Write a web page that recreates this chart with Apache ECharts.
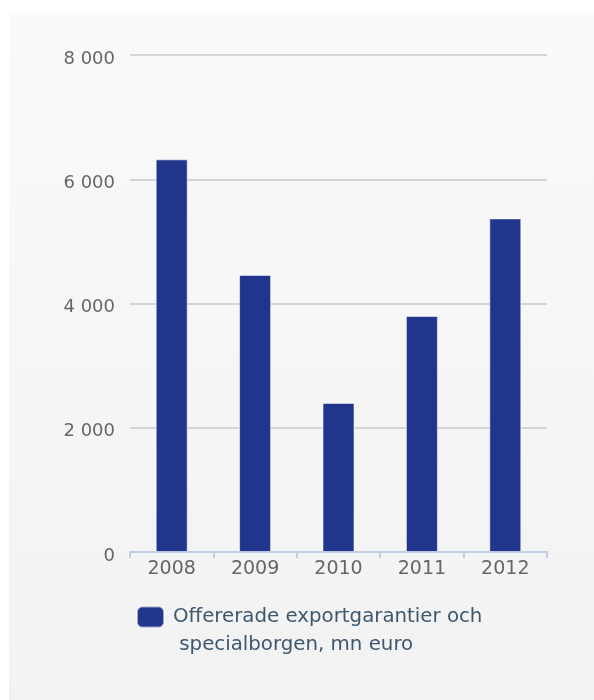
<!DOCTYPE html>
<html>
<head>
<meta charset="utf-8">
<script src="https://cdn.jsdelivr.net/npm/echarts@6/dist/echarts.min.js"></script>
<style>
html,body{margin:0;padding:0;background:#fff;width:594px;height:700px;overflow:hidden;}
#panel{position:absolute;left:9px;top:12px;width:585px;height:688px;background:linear-gradient(#fafafa,#f2f2f2);}
#chart{position:absolute;left:0;top:0;width:594px;height:700px;}
</style>
</head>
<body>
<div id="panel"></div>
<div id="chart"></div>
<script>
const categories = ['2008', '2009', '2010', '2011', '2012'];
const seriesName = 'Offererade exportgarantier och specialborgen, mn euro';
const values = [6320, 4460, 2400, 3800, 5370];
const yTicks = [0, 2000, 4000, 6000, 8000];

const chart = echarts.init(document.getElementById('chart'), null, {renderer: 'canvas'});
const font = '"DejaVu Sans", Verdana, sans-serif';
chart.setOption({
  backgroundColor: 'transparent',
  animation: false,
  grid: {left: 130, right: 47, top: 55, bottom: 148, containLabel: false},
  xAxis: {
    type: 'category',
    data: categories,
    axisLine: {lineStyle: {color: '#c0d0e0', width: 2}},
    axisTick: {show: true, length: 6, lineStyle: {color: '#c0d0e0', width: 2}},
    axisLabel: {color: '#666', fontSize: 19, fontFamily: font, margin: 8}
  },
  yAxis: {
    type: 'value',
    min: yTicks[0],
    max: yTicks[yTicks.length - 1],
    interval: yTicks[1] - yTicks[0],
    axisLine: {show: false},
    axisTick: {show: false},
    splitLine: {lineStyle: {color: '#c8c8c8', width: 1.5}},
    axisLabel: {
      color: '#666', fontSize: 18, fontFamily: font, margin: 15,
      formatter: v => '{a|' + String(v).replace(/\B(?=(\d{3})+(?!\d))/g, ' ') + '}',
      rich: {a: {color: '#666', fontSize: 18, fontFamily: font, padding: [8, 0, 0, 0]}}
    }
  },
  legend: {
    left: 136,
    top: 575,
    padding: 0,
    itemWidth: 27,
    itemHeight: 21,
    icon: 'roundRect',
    formatter: () => '\nOffererade exportgarantier och\n specialborgen, mn euro',
    textStyle: {color: '#3e576f', fontSize: 19.8, fontFamily: font, lineHeight: 28, padding: [0, 0, 0, 4]},
    data: [seriesName]
  },
  series: [{
    name: seriesName,
    type: 'bar',
    data: values,
    barWidth: 32,
    itemStyle: {color: '#22358c', borderColor: 'rgba(255,255,255,0.55)', borderWidth: 1}
  }]
});
</script>
</body>
</html>
